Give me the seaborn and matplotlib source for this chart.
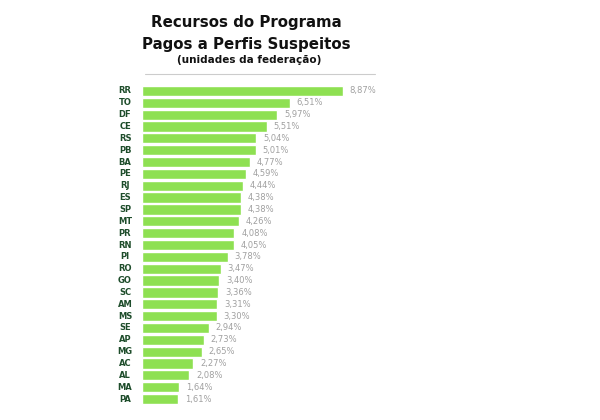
import matplotlib
matplotlib.use("Agg")
import matplotlib.pyplot as plt
import seaborn as sns
import pandas as pd

states = ["RR", "TO", "DF", "CE", "RS", "PB", "BA", "PE", "RJ", "ES", "SP", "MT", "PR",
          "RN", "PI", "RO", "GO", "SC", "AM", "MS", "SE", "AP", "MG", "AC", "AL", "MA", "PA"]
values = [8.87, 6.51, 5.97, 5.51, 5.04, 5.01, 4.77, 4.59, 4.44, 4.38, 4.38, 4.26, 4.08,
          4.05, 3.78, 3.47, 3.40, 3.36, 3.31, 3.30, 2.94, 2.73, 2.65, 2.27, 2.08, 1.64, 1.61]
title_lines = ["Recursos do Programa", "Pagos a Perfis Suspeitos"]
subtitle = "(unidades da federação)"

df = pd.DataFrame({"uf": states, "valor": values})

sns.set_theme(style="white")
plt.rcParams["font.family"] = ["DejaVu Sans"]

fig = plt.figure(figsize=(6, 4.2), dpi=100)
ax = fig.add_axes([142 / 600, 1 - 405 / 420, 226.6 / 600, 320 / 420])

sns.barplot(data=df, x="valor", y="uf", orient="h", color="#8EE052",
            saturation=1, width=0.86, ax=ax)
ax.set_xlim(0, 10)
ax.set_ylim(len(states) - 0.5, -0.5)
for s in ax.spines.values():
    s.set_visible(False)
ax.set_xticks([])
ax.set_xlabel("")
ax.set_ylabel("")
ax.set_yticks(range(len(states)))
ax.set_yticklabels([])
ax.tick_params(left=False)

for i, (st, v) in enumerate(zip(states, values)):
    ax.text(v + 0.3, i, f"{v:.2f}%".replace(".", ","), va="center", ha="left",
            fontsize=6, color="#a0a0a0")
    ax.text(-0.75, i, st, va="center", ha="center", fontsize=6,
            fontweight="bold", color="#1E4D2B")

cx = 246 / 600
fig.text(cx, 1 - 23 / 420, title_lines[0], ha="center", va="center",
         fontsize=10.8, fontweight="bold", color="#111111")
fig.text(cx, 1 - 44 / 420, title_lines[1], ha="center", va="center",
         fontsize=10.8, fontweight="bold", color="#111111")
fig.text(cx + 3 / 600, 1 - 60 / 420, subtitle, ha="center", va="center",
         fontsize=7.5, fontweight="bold", color="#111111")
fig.add_artist(plt.Line2D([145 / 600, 375 / 600], [1 - 74 / 420, 1 - 74 / 420],
                          color="#cccccc", lw=0.8, transform=fig.transFigure))

fig.savefig("out.png", dpi=100, facecolor="white")
